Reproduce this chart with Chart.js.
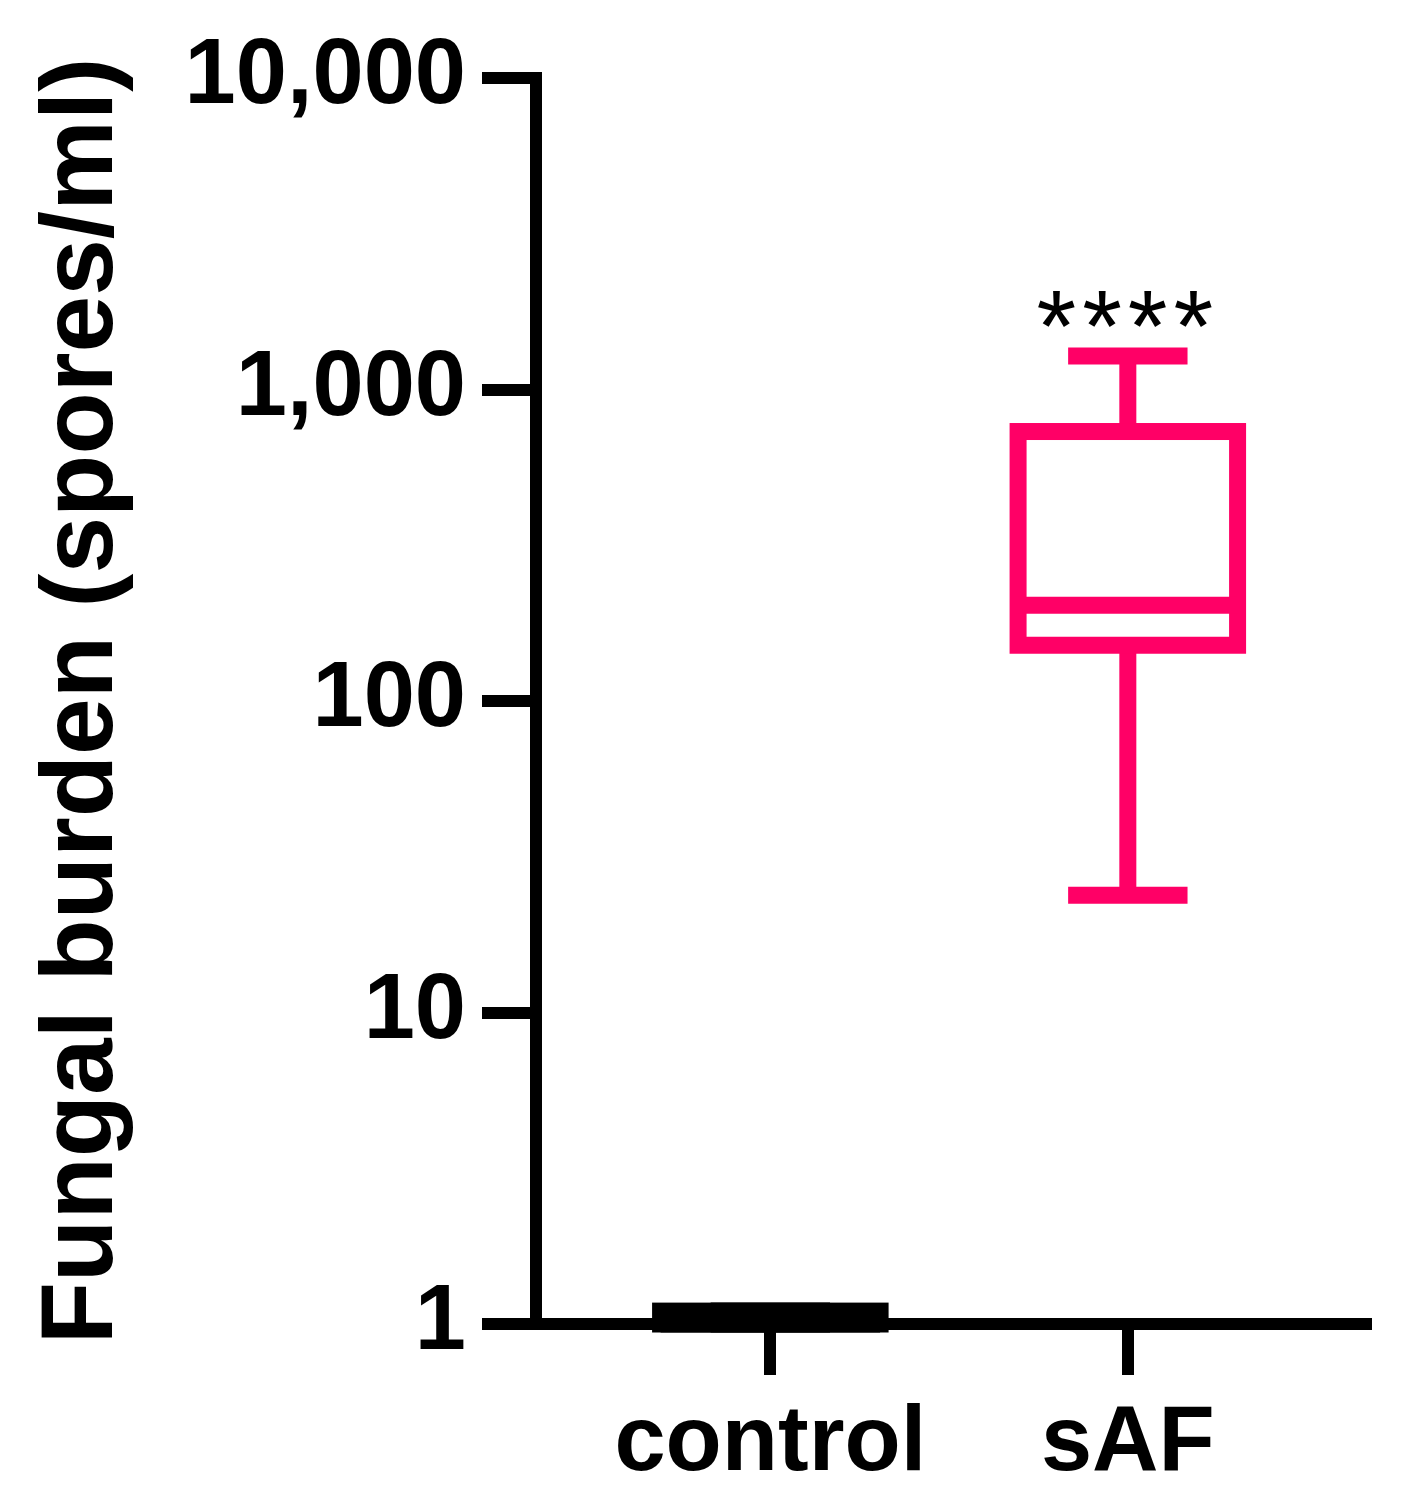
<!DOCTYPE html>
<html>
<head>
<meta charset="utf-8">
<script src="https://cdn.jsdelivr.net/npm/chart.js@4.4.1/dist/chart.umd.min.js"></script>
<style>
  html, body { margin: 0; padding: 0; background: #ffffff; }
  #c { display: block; }
</style>
</head>
<body>
<canvas id="c" width="1404" height="1499"></canvas>
<script>
// ---- data ----
const categories = ['control', 'sAF'];
const whiskerMin = [1, 23.8];
const quartile1 = [1, 151];
const median = [1, 203];
const quartile3 = [1.1, 733];
const whiskerMax = [1.1, 1280];
const significance = ['', '****'];
const yTickValues = [1, 10, 100, 1000, 10000];
const groupColors = ['#000000', '#ff0066'];

const FONT = "'Liberation Sans', Arial, Helvetica, sans-serif";

const boxPlotPlugin = {
  id: 'boxPlot',
  afterDatasetsDraw(chart) {
    const ctx = chart.ctx;
    const xs = chart.scales.x, ys = chart.scales.y;
    const boxHalf = 0.307, capHalf = 0.167, lw = 17;
    ctx.save();
    categories.forEach((cat, i) => {
      const cx = xs.getPixelForValue(i + 1);
      const bl = xs.getPixelForValue(i + 1 - boxHalf);
      const br = xs.getPixelForValue(i + 1 + boxHalf);
      const cl = xs.getPixelForValue(i + 1 - capHalf);
      const cr = xs.getPixelForValue(i + 1 + capHalf);
      const yMin = ys.getPixelForValue(whiskerMin[i]);
      const yQ1 = ys.getPixelForValue(quartile1[i]);
      const yMed = ys.getPixelForValue(median[i]);
      const yQ3 = ys.getPixelForValue(quartile3[i]);
      const yMax = ys.getPixelForValue(whiskerMax[i]);
      ctx.strokeStyle = groupColors[i];
      ctx.lineWidth = lw;
      ctx.lineCap = 'butt';
      ctx.lineJoin = 'miter';
      // whiskers
      ctx.beginPath();
      ctx.moveTo(cx, yQ3); ctx.lineTo(cx, yMax);
      ctx.moveTo(cl, yMax); ctx.lineTo(cr, yMax);
      ctx.moveTo(cx, yQ1); ctx.lineTo(cx, yMin);
      ctx.moveTo(cl, yMin); ctx.lineTo(cr, yMin);
      ctx.stroke();
      // box
      ctx.fillStyle = '#ffffff';
      ctx.fillRect(bl, yQ3, br - bl, yQ1 - yQ3);
      ctx.strokeRect(bl, yQ3, br - bl, yQ1 - yQ3);
      // median
      ctx.beginPath();
      ctx.moveTo(bl, yMed); ctx.lineTo(br, yMed);
      ctx.stroke();
      // significance
      if (significance[i]) {
        ctx.fillStyle = '#000000';
        ctx.font = "normal 102px " + FONT;
        ctx.textAlign = 'center';
        ctx.textBaseline = 'alphabetic';
        ctx.letterSpacing = '6px';
        ctx.fillText(significance[i], cx, yMax + 5);
        ctx.letterSpacing = '0px';
      }
    });
    // axis lines
    const a = chart.chartArea;
    ctx.strokeStyle = '#000000';
    ctx.lineWidth = 12;
    ctx.lineCap = 'butt';
    ctx.beginPath();
    ctx.moveTo(a.left, ys.getPixelForValue(10000) - 6);
    ctx.lineTo(a.left, a.bottom + 6);
    ctx.moveTo(a.left - 6, a.bottom);
    ctx.lineTo(a.right, a.bottom);
    ctx.stroke();
    ctx.restore();
  }
};

new Chart(document.getElementById('c'), {
  type: 'scatter',
  data: {
    datasets: [{
      label: 'median',
      data: categories.map((c, i) => ({ x: i + 1, y: median[i] })),
      pointRadius: 0,
      showLine: false
    }]
  },
  options: {
    responsive: false,
    animation: false,
    devicePixelRatio: 1,
    layout: { padding: { top: 78, right: 32, left: 0, bottom: 0 } },
    plugins: { legend: { display: false }, tooltip: { enabled: false } },
    scales: {
      x: {
        type: 'linear',
        min: 0.3445,
        max: 2.683,
        afterBuildTicks: s => { s.ticks = categories.map((c, i) => ({ value: i + 1 })); },
        afterFit: s => { s.height = 175; },
        ticks: {
          callback: v => categories[v - 1] || '',
          color: '#000000',
          font: { family: FONT, size: 92, weight: 'bold' },
          padding: 14,
          maxRotation: 0,
          autoSkip: false
        },
        grid: { drawOnChartArea: false, drawTicks: true, tickLength: 51, tickWidth: 12, tickColor: '#000000', lineWidth: 12, color: '#000000' },
        border: { display: false }
      },
      y: {
        type: 'logarithmic',
        min: 1,
        max: 10000,
        afterBuildTicks: s => { s.ticks = yTickValues.map(v => ({ value: v })); },
        afterFit: s => { s.width = 536; },
        ticks: {
          callback: v => Number(v).toLocaleString('en-US'),
          color: '#000000',
          font: { family: FONT, size: 92, weight: 'bold' },
          padding: 16,
          autoSkip: false
        },
        grid: { drawOnChartArea: false, drawTicks: true, tickLength: 54, tickWidth: 12, tickColor: '#000000', lineWidth: 12, color: '#000000' },
        border: { display: false },
        title: {
          display: true,
          text: 'Fungal burden (spores/ml)',
          color: '#000000',
          font: { family: FONT, size: 102, weight: 'bold' },
          padding: { top: 23, bottom: 0 }
        }
      }
    }
  },
  plugins: [boxPlotPlugin]
});
</script>
</body>
</html>
